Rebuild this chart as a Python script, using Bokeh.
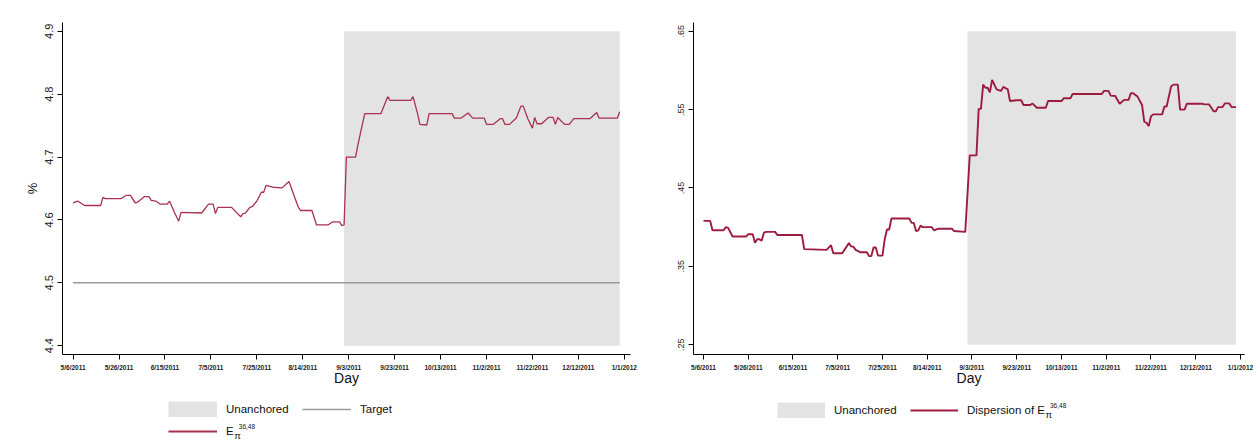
import numpy as np
from bokeh.plotting import figure
from bokeh.layouts import row, column
from bokeh.models import Legend, LegendItem, FixedTicker, Range1d, Label
from bokeh.embed import file_html
from bokeh.resources import INLINE

# ---------------- data ----------------
start_date = "2011-05-06"

# Left panel: E_pi^{36,48} (day offset from 5/6/2011, value in %)
e_days = [0, 2, 5, 12, 13, 14, 21, 23, 25, 27, 28, 31, 33, 34, 36, 38, 41, 42, 44, 46,
          47, 56, 59, 61, 62, 63, 69, 73, 74, 75, 77, 78, 80, 82, 83, 84, 87, 91, 94, 96,
          98, 99, 104, 106, 111, 113, 116, 117, 118, 119, 123, 124, 125, 127, 134, 137, 138, 147, 148, 150,
          151, 154, 155, 165, 166, 169, 172, 174, 179, 180, 183, 186, 187, 188, 190, 193, 195, 196, 198, 200,
          201, 202, 204, 207, 209, 210, 211, 214, 216, 218, 225, 228, 229, 237, 238]
e_vals = [4.627, 4.630, 4.623, 4.623, 4.636, 4.634, 4.634, 4.639, 4.639, 4.627, 4.628, 4.637, 4.637, 4.631, 4.630, 4.625, 4.625, 4.630, 4.613, 4.598,
          4.612, 4.611, 4.625, 4.625, 4.610, 4.620, 4.620, 4.605, 4.610, 4.611, 4.620, 4.621, 4.630, 4.644, 4.644, 4.655, 4.652, 4.651, 4.661, 4.641,
          4.621, 4.615, 4.615, 4.592, 4.592, 4.597, 4.597, 4.591, 4.592, 4.700, 4.700, 4.719, 4.736, 4.769, 4.769, 4.796, 4.790, 4.790, 4.796, 4.769,
          4.752, 4.751, 4.769, 4.769, 4.762, 4.762, 4.770, 4.762, 4.762, 4.752, 4.752, 4.761, 4.761, 4.752, 4.752, 4.762, 4.781, 4.781, 4.761, 4.746,
          4.763, 4.753, 4.753, 4.763, 4.763, 4.752, 4.763, 4.752, 4.752, 4.761, 4.761, 4.771, 4.762, 4.762, 4.772]

target_days = [0, 238]
target_vals = [4.5, 4.5]

# Right panel: dispersion of E_pi^{36,48}
d_days = [0, 3, 4, 9, 10, 11, 13, 19, 20, 22, 23, 24, 25, 26, 27, 28, 32, 33, 44, 45,
          55, 57, 58, 62, 65, 66, 67, 68, 70, 73, 74, 75, 76, 77, 78, 80, 81, 82, 83, 84,
          92, 93, 94, 95, 96, 97, 98, 102, 103, 105, 111, 112, 117, 119, 122, 123, 124, 125, 126, 127,
          128, 129, 131, 133, 134, 136, 137, 140, 142, 143, 146, 147, 149, 153, 154, 160, 161, 164, 165, 178,
          179, 181, 182, 184, 186, 188, 190, 191, 192, 194, 196, 197, 198, 199, 200, 201, 205, 206, 207, 209,
          210, 212, 213, 215, 216, 223, 224, 226, 228, 229, 230, 232, 233, 235, 236, 238]
d_vals = [0.408, 0.408, 0.396, 0.396, 0.400, 0.399, 0.388, 0.388, 0.391, 0.391, 0.380, 0.3846, 0.3846, 0.3825, 0.393, 0.394, 0.394, 0.390, 0.390, 0.372,
          0.371, 0.377, 0.3667, 0.3667, 0.3796, 0.3754, 0.375, 0.371, 0.368, 0.368, 0.363, 0.363, 0.374, 0.374, 0.3637, 0.3637, 0.3846, 0.397, 0.397, 0.411,
          0.411, 0.4054, 0.4054, 0.395, 0.396, 0.402, 0.400, 0.400, 0.396, 0.398, 0.398, 0.395, 0.394, 0.4917, 0.4917, 0.551, 0.551, 0.582, 0.578, 0.578,
          0.572, 0.588, 0.576, 0.574, 0.579, 0.576, 0.561, 0.562, 0.562, 0.556, 0.556, 0.558, 0.5525, 0.5525, 0.561, 0.561, 0.5646, 0.5646, 0.570, 0.570,
          0.574, 0.574, 0.568, 0.5675, 0.5575, 0.5625, 0.5625, 0.571, 0.571, 0.5667, 0.556, 0.5346, 0.5333, 0.529, 0.5417, 0.544, 0.544, 0.554, 0.554, 0.5796,
          0.582, 0.582, 0.550, 0.550, 0.5575, 0.5575, 0.5567, 0.5567, 0.548, 0.548, 0.5533, 0.5533, 0.558, 0.558, 0.5533, 0.5533]

shade_start = "2011-09-01"
shade_end = "2011-12-30"
left_shade_bottom, left_shade_top = 4.4, 4.9
right_shade_bottom, right_shade_top = 0.25, 0.65

x_tick_dates = ["2011-05-06", "2011-05-26", "2011-06-15", "2011-07-05", "2011-07-25", "2011-08-14",
                "2011-09-03", "2011-09-23", "2011-10-13", "2011-11-02", "2011-11-22", "2011-12-12", "2012-01-01"]
x_tick_labels = ["5/6/2011", "5/26/2011", "6/15/2011", "7/5/2011", "7/25/2011", "8/14/2011",
                 "9/3/2011", "9/23/2011", "10/13/2011", "11/2/2011", "11/22/2011", "12/12/2011", "1/1/2012"]

left_y_ticks = [4.4, 4.5, 4.6, 4.7, 4.8, 4.9]
left_y_labels = ["4.4", "4.5", "4.6", "4.7", "4.8", "4.9"]
right_y_ticks = [0.25, 0.35, 0.45, 0.55, 0.65]
right_y_labels = [".25", ".35", ".45", ".55", ".65"]

# ---------------- helpers ----------------
t0 = np.datetime64(start_date)


def days_to_dt(days):
    return t0 + np.array(days).astype("timedelta64[D]")


def to_ms(d):
    return int(np.datetime64(d).astype("datetime64[ms]").astype(np.int64))


DAY_MS = 86400000.0
FONT = "Liberation Sans"
SHADE = "#e3e3e3"
E_COLOR = "#a8324f"
D_COLOR = "#9e1b40"
T_COLOR = "#9a9a9a"
TEXT = "#111111"
tick_ms = [to_ms(d) for d in x_tick_dates]


def style_axes(p, yt, yl, ylabel_size):
    p.xaxis.ticker = FixedTicker(ticks=tick_ms)
    p.xaxis.major_label_overrides = {t: l for t, l in zip(tick_ms, x_tick_labels)}
    p.yaxis.ticker = FixedTicker(ticks=yt)
    p.yaxis.major_label_overrides = {t: l for t, l in zip(yt, yl)}
    for ax in (p.xaxis, p.yaxis):
        ax.axis_line_color = "black"
        ax.axis_line_width = 1
        ax.major_tick_line_color = "black"
        ax.major_tick_out = 5
        ax.major_tick_in = 0
        ax.minor_tick_line_color = None
        ax.major_label_text_font = FONT
        ax.major_label_text_color = "#222222"
        ax.axis_label_text_font = FONT
        ax.axis_label_text_font_style = "normal"
        ax.axis_label_text_color = TEXT
    p.xaxis.major_label_text_font_size = "6.5px"
    p.xaxis.major_label_text_font_style = "bold"
    p.xaxis.major_label_standoff = 4
    p.xaxis.axis_label = "Day"
    p.xaxis.axis_label_text_font_size = "14px"
    p.xaxis.axis_label_standoff = -4
    p.yaxis.major_label_orientation = "vertical"
    p.yaxis.major_label_text_font_size = ylabel_size
    p.yaxis.major_label_standoff = 4
    p.xgrid.visible = False
    p.ygrid.visible = False
    p.outline_line_color = None
    p.background_fill_color = "white"
    p.border_fill_color = "white"


def legend_fig(w):
    f = figure(width=w, height=43, output_backend="svg", toolbar_location=None,
               x_axis_location=None, y_axis_location=None,
               x_range=Range1d(0, 1), y_range=Range1d(0, 1),
               min_border=0, min_border_left=0, min_border_right=0,
               min_border_top=0, min_border_bottom=0)
    f.xgrid.visible = False
    f.ygrid.visible = False
    f.outline_line_color = None
    f.background_fill_color = "white"
    f.border_fill_color = "white"
    return f


def make_legend(items, x_off, y_off, gw):
    return Legend(items=items, location=(x_off, y_off), orientation="horizontal",
                  glyph_width=gw, glyph_height=16, label_height=16, label_width=70,
                  label_standoff=9, spacing=6, padding=0, margin=0,
                  border_line_color=None, background_fill_alpha=0,
                  label_text_font=FONT, label_text_font_size="11.5px",
                  label_text_color=TEXT)


def sub_sup(f, x, y_row):
    # subscript pi and superscript "36,48" that follow the legend's "E"
    f.add_layout(Label(x=x, y=y_row - 3.5, x_units="screen", y_units="screen", text="\u03c0",
                       text_font=FONT, text_font_size="9.5px", text_color=TEXT,
                       text_baseline="middle", text_align="left"))
    f.add_layout(Label(x=x + 4.5, y=y_row + 5, x_units="screen", y_units="screen", text="36,48",
                       text_font=FONT, text_font_size="6.5px", text_color=TEXT,
                       text_baseline="middle", text_align="left"))


# ---------------- left panel ----------------
x0 = to_ms(start_date)
p1 = figure(width=647, height=400, x_axis_type="datetime", output_backend="svg",
            toolbar_location=None,
            x_range=Range1d(x0 - 4.6 * DAY_MS, x0 + 242.7 * DAY_MS),
            y_range=Range1d(4.386, 4.914),
            min_border_left=62, min_border_right=17, min_border_top=22, min_border_bottom=46)

p1.quad(left=[np.datetime64(shade_start)], right=[np.datetime64(shade_end)],
        bottom=[left_shade_bottom], top=[left_shade_top],
        fill_color=SHADE, line_color=None)
p1.line(days_to_dt(target_days), target_vals, line_color=T_COLOR, line_width=1.6)
p1.line(days_to_dt(e_days), e_vals, line_color=E_COLOR, line_width=1.3)
style_axes(p1, left_y_ticks, left_y_labels, "11px")
p1.yaxis.axis_label = "%"
p1.yaxis.axis_label_text_font_size = "13px"
p1.yaxis.axis_label_standoff = 3

# legend strip under the left panel; its renderers sit outside the strip's view
l1 = legend_fig(647)
g_shade1 = l1.line(x=[2, 3], y=[2, 2], line_color=SHADE, line_width=16, line_cap="butt")
g_target = l1.line(x=[2, 3], y=[2, 2], line_color=T_COLOR, line_width=1.6)
g_e = l1.line(x=[2, 3], y=[2, 2], line_color=E_COLOR, line_width=1.8)
l1.add_layout(make_legend([LegendItem(label="Unanchored", renderers=[g_shade1]),
                           LegendItem(label="Target", renderers=[g_target])], 168, 26, 49))
l1.add_layout(make_legend([LegendItem(label="E", renderers=[g_e])], 168, 4, 49))
sub_sup(l1, 233.8, 12)

# ---------------- right panel ----------------
p2 = figure(width=613, height=400, x_axis_type="datetime", output_backend="svg",
            toolbar_location=None,
            x_range=Range1d(x0 - 4.47 * DAY_MS, x0 + 241.8 * DAY_MS),
            y_range=Range1d(0.2374, 0.6613),
            min_border_left=46, min_border_right=16, min_border_top=21, min_border_bottom=42)

p2.quad(left=[np.datetime64(shade_start)], right=[np.datetime64(shade_end)],
        bottom=[right_shade_bottom], top=[right_shade_top],
        fill_color=SHADE, line_color=None)
p2.line(days_to_dt(d_days), d_vals, line_color=D_COLOR, line_width=1.9)
style_axes(p2, right_y_ticks, right_y_labels, "9px")

l2 = legend_fig(613)
g_shade2 = l2.line(x=[2, 3], y=[2, 2], line_color=SHADE, line_width=16, line_cap="butt")
g_d = l2.line(x=[2, 3], y=[2, 2], line_color=D_COLOR, line_width=1.9)
l2.add_layout(make_legend([LegendItem(label="Unanchored", renderers=[g_shade2]),
                           LegendItem(label="Dispersion of E", renderers=[g_d])],
                          130, 25, 48))
sub_sup(l2, 398, 33)

layout = column(row(p1, p2), row(l1, l2))
open("out.html", "w").write(file_html(layout, INLINE))
